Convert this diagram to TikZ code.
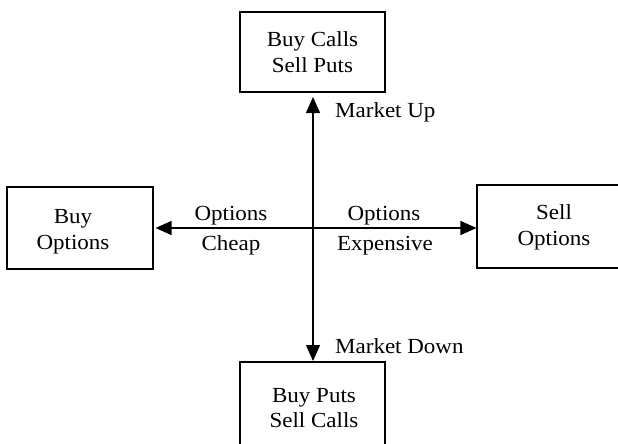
\documentclass[tikz,border=0pt]{standalone}
\usepackage{fontspec}
\setmainfont[FakeStretch=1.07]{Liberation Serif}
\usetikzlibrary{arrows.meta}
\begin{document}
\begin{tikzpicture}[x=1pt,y=-1pt,
  box/.style={draw,line width=1.1pt,inner sep=0pt},
  txt/.style={font=\fontsize{21.5}{25}\selectfont,inner sep=0pt,anchor=base},
  arr/.style={line width=1.3pt,{Triangle[length=16pt,width=14pt]}-{Triangle[length=16pt,width=14pt]}}]
\useasboundingbox (0,0) rectangle (618,444);
\clip (0,0) rectangle (618,444);
% boxes
\node[box,minimum width=145pt,minimum height=80pt] (up) at (312.5,52) {};
\node[box,minimum width=146pt,minimum height=82pt] (left) at (80,228) {};
\node[box,minimum width=148pt,minimum height=83pt] (right) at (551,226.5) {};
\node[box,minimum width=145pt,minimum height=88pt] (down) at (312.5,406) {};
% box texts
\node[txt] (up1) at (312.5,47) {Buy Calls};
\node[txt] (up2) at (312.5,72) {Sell Puts};
\node[txt] (left1) at (73,223) {Buy};
\node[txt] (left2) at (73,249) {Options};
\node[txt] (right1) at (554,219) {Sell};
\node[txt] (right2) at (554,245) {Options};
\node[txt] (down1) at (314,402) {Buy Puts};
\node[txt] (down2) at (314,427) {Sell Calls};
% connectors
\coordinate (ha) at (left.east |- 0,228);
\coordinate (hb) at (right.west |- 0,228);
\coordinate (va) at (313,97);
\coordinate (vb) at (313,361);
\draw[arr,shorten <=2pt] (ha) -- (hb);
\draw[arr] (va) -- (vb);
% labels
\node[txt,anchor=base west] (mu) at (335,117) {Market Up};
\node[txt,anchor=base west] (md) at (335,353) {Market Down};
\node[txt] (oc) at (231,220) {Options};
\node[txt] (ch) at (231,250) {Cheap};
\node[txt] (oe) at (384,220) {Options};
\node[txt] (ex) at (385,250) {Expensive};
\end{tikzpicture}
\end{document}
